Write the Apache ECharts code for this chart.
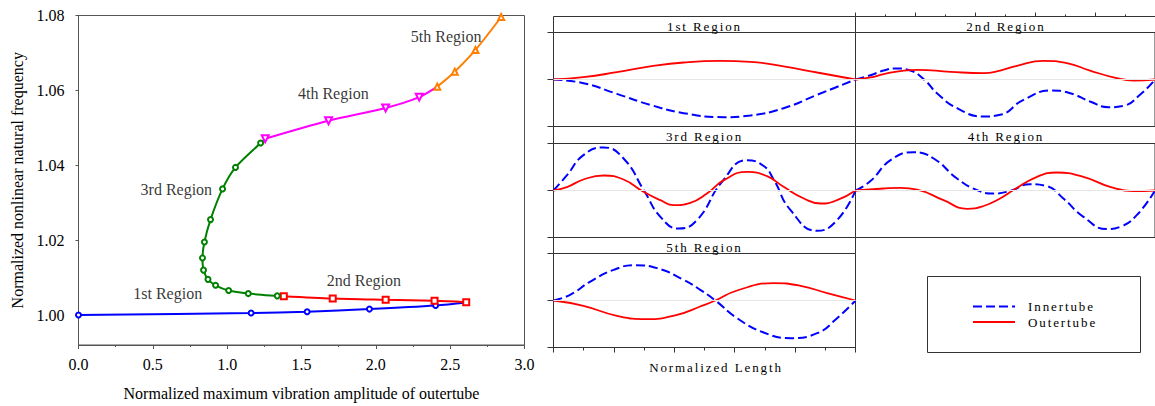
<!DOCTYPE html>
<html>
<head>
<meta charset="utf-8">
<script src="https://cdn.jsdelivr.net/npm/echarts@6/dist/echarts.min.js"></script>
<style>
html,body{margin:0;padding:0;background:#fff;}
#c{width:1155px;height:406px;}
text[style*="LSP"]{letter-spacing:1.9px;}
</style>
</head>
<body>
<div id="c"></div>
<script>
// ---------- Left chart data: [normalized amplitude, normalized frequency] ----------
const region1 = [[0,1.0],[1.161,1.00053],[1.538,1.00088],[1.957,1.00159],[2.402,1.00256],[2.611,1.00335]];
const region2 = [[1.381,1.00503],[1.710,1.00441],[2.066,1.00406],[2.395,1.00379],[2.608,1.00344]];
const region3 = [[1.381,1.00503],[1.337,1.00512],[1.142,1.00573],[1.010,1.00655],[0.922,1.00794],[0.871,1.00953],[0.841,1.0120],[0.834,1.01526],[0.847,1.01949],[0.888,1.02549],[0.969,1.03369],[1.056,1.03943],[1.225,1.04595],[1.256,1.0471]];
const region4 = [[1.256,1.0471],[1.682,1.0519],[2.066,1.0553],[2.292,1.0582],[2.413,1.0610]];
const region5 = [[2.413,1.0610],[2.531,1.0650],[2.670,1.0708],[2.843,1.0796]];
const regionNames = ['1st Region','2nd Region','3rd Region','4th Region','5th Region'];
const regionLabelAt = [[0.600,1.00564],[1.920,1.00916],[0.658,1.0334],[1.714,1.0591],[2.473,1.0745]];
const freqTickLabels = [1.00,1.02,1.04,1.06,1.08];

// ---------- Mode shapes: [normalized length, normalized deflection] ----------
const inner1 = [[0,0],[0.099,-0.078],[0.21,-0.305],[0.32,-0.539],[0.431,-0.716],[0.564,-0.801],[0.652,-0.766],[0.762,-0.61],[0.873,-0.326],[1,0]];
const outer1 = [[0,0],[0.099,0.05],[0.21,0.156],[0.32,0.277],[0.431,0.362],[0.552,0.397],[0.652,0.376],[0.762,0.277],[0.873,0.149],[1,0]];
const inner2 = [[0,0],[0.05,0.09],[0.094,0.191],[0.135,0.234],[0.183,0.191],[0.228,0.007],[0.272,-0.291],[0.339,-0.61],[0.428,-0.787],[0.483,-0.752],[0.561,-0.433],[0.656,-0.234],[0.717,-0.291],[0.783,-0.468],[0.844,-0.589],[0.894,-0.56],[0.95,-0.326],[1,0]];
const outer2 = [[0,0],[0.05,0.043],[0.094,0.113],[0.161,0.191],[0.206,0.206],[0.317,0.163],[0.428,0.135],[0.483,0.191],[0.539,0.291],[0.628,0.397],[0.706,0.348],[0.783,0.191],[0.872,0.028],[0.928,-0.021],[1,0]];
const inner3 = [[0,0],[0.044,0.32],[0.099,0.752],[0.166,0.915],[0.232,0.681],[0.302,-0.028],[0.354,-0.56],[0.414,-0.809],[0.475,-0.631],[0.558,0.184],[0.641,0.645],[0.696,0.52],[0.729,0.234],[0.785,-0.418],[0.873,-0.858],[0.939,-0.631],[1,0]];
const outer3 = [[0,0],[0.044,0.07],[0.099,0.234],[0.166,0.319],[0.232,0.234],[0.298,-0.028],[0.354,-0.206],[0.398,-0.312],[0.453,-0.262],[0.508,-0.064],[0.564,0.22],[0.641,0.397],[0.707,0.305],[0.762,0.078],[0.829,-0.17],[0.884,-0.277],[0.939,-0.206],[1,0]];
const inner4 = [[0,0],[0.05,0.2],[0.117,0.645],[0.194,0.816],[0.261,0.681],[0.339,0.255],[0.406,0.007],[0.461,-0.064],[0.517,-0.007],[0.583,0.135],[0.639,0.092],[0.694,-0.17],[0.761,-0.56],[0.84,-0.82],[0.885,-0.77],[0.939,-0.525],[1,0]];
const outer4 = [[0,0],[0.094,0.043],[0.15,0.057],[0.206,0.02],[0.294,-0.206],[0.372,-0.39],[0.428,-0.33],[0.483,-0.17],[0.53,0.02],[0.606,0.291],[0.672,0.383],[0.761,0.291],[0.85,0.078],[0.928,-0.014],[1,0]];
const inner5 = [[0,0],[0.055,0.121],[0.122,0.404],[0.199,0.652],[0.271,0.752],[0.343,0.688],[0.431,0.44],[0.486,0.227],[0.536,0],[0.608,-0.376],[0.696,-0.681],[0.785,-0.801],[0.873,-0.695],[0.939,-0.376],[1,0]];
const outer5 = [[0,0],[0.099,-0.113],[0.21,-0.326],[0.309,-0.397],[0.409,-0.305],[0.486,-0.128],[0.536,0],[0.608,0.213],[0.729,0.369],[0.818,0.312],[0.906,0.156],[1,0]];
const legendNames = ['Innertube','Outertube'];

// ---------- Styles & layout ----------
const FS = "'Liberation Serif', 'Times New Roman', serif";
const FSP = "'Liberation Serif', LSP, serif";
const TXT = '#000';
const FRAME = '#555';
const BOX = '#333';

const curves = [region1, region2, region3, region4, region5];
const curveStyle = [
  {color:'#0000ff', symbol:'emptyCircle', size:5, rotate:0, skipFirst:false, skipLast:true},
  {color:'#ff0000', symbol:'emptyRect', size:6, rotate:0, skipFirst:false, skipLast:false},
  {color:'#008000', symbol:'emptyCircle', size:5, rotate:0, skipFirst:true, skipLast:true},
  {color:'#ff00ff', symbol:'emptyTriangle', size:7, rotate:180, skipFirst:false, skipLast:true},
  {color:'#ff7f00', symbol:'emptyTriangle', size:6, rotate:0, skipFirst:false, skipLast:false}
];

const panels = [
  {inner:inner1, outer:outer1, left:553.5, top:32.5, width:302, height:94, headerTop:16.5, col:0, xAxisMode:'none'},
  {inner:inner2, outer:outer2, left:855.5, top:32.5, width:301, height:94, headerTop:16.5, col:1, xAxisMode:'top'},
  {inner:inner3, outer:outer3, left:553.5, top:143.5, width:302, height:94, headerTop:126.5, col:0, xAxisMode:'none'},
  {inner:inner4, outer:outer4, left:855.5, top:143.5, width:301, height:94, headerTop:126.5, col:1, xAxisMode:'none'},
  {inner:inner5, outer:outer5, left:553.5, top:253.5, width:302, height:94, headerTop:237.5, col:0, xAxisMode:'bottom'}
];

const grids = [{left:78.5, top:15.5, width:446, height:332, show:true, borderColor:FRAME, borderWidth:1, backgroundColor:'transparent'}];
const xAxes = [{
  gridIndex:0, type:'value', min:0, max:3, interval:0.5,
  axisLine:{show:true, onZero:false, lineStyle:{color:FRAME, width:1}},
  axisTick:{show:true, inside:false, length:4, lineStyle:{color:FRAME}},
  minorTick:{show:true, splitNumber:2, length:2, lineStyle:{color:FRAME}},
  splitLine:{show:false},
  axisLabel:{formatter:v => v.toFixed(1), fontFamily:FS, fontSize:16, color:TXT, margin:11},
  name:'Normalized maximum vibration amplitude of outertube', nameLocation:'middle', nameGap:40,
  nameTextStyle:{fontFamily:FS, fontSize:16, color:TXT}
}];
const yAxes = [{
  gridIndex:0, type:'value', min:0.992, max:1.08,
  axisLine:{show:true, onZero:false, lineStyle:{color:FRAME, width:1}},
  axisTick:{show:true, inside:false, length:3, customValues:freqTickLabels, lineStyle:{color:FRAME}},
  splitLine:{show:false},
  axisLabel:{customValues:freqTickLabels, formatter:v => v.toFixed(2), fontFamily:FS, fontSize:16, color:TXT, margin:14},
  name:'Normalized nonlinear natural frequency', nameLocation:'middle', nameGap:53,
  nameTextStyle:{fontFamily:FS, fontSize:16, color:TXT}
}];

const series = [];
curves.forEach((c, i) => {
  const st = curveStyle[i];
  series.push({
    type:'line', name:regionNames[i], xAxisIndex:0, yAxisIndex:0,
    data:c.map((p, j) => ((st.skipFirst && j === 0) || (st.skipLast && j === c.length - 1)) ? {value:p, symbol:'none'} : p),
    smooth:0.3, symbol:st.symbol, symbolSize:st.size, symbolRotate:st.rotate, showAllSymbol:true,
    lineStyle:{color:st.color, width:2},
    itemStyle:{color:st.color, borderColor:st.color, borderWidth:1.2},
    silent:true, z:3
  });
});
series.push({
  type:'scatter', xAxisIndex:0, yAxisIndex:0, symbolSize:0, silent:true,
  data:regionNames.map((n, i) => ({name:n, value:regionLabelAt[i]})),
  label:{show:true, position:'inside', formatter:'{b}', fontFamily:FS, fontSize:16, color:TXT},
  z:5
});

const graphics = [];
panels.forEach((p, k) => {
  const gi = k + 1;
  grids.push({left:p.left, top:p.top, width:p.width, height:p.height, show:true, borderColor:BOX, borderWidth:1, backgroundColor:'transparent'});
  const xa = {gridIndex:gi, type:'value', min:0, max:1, interval:0.2, show:p.xAxisMode !== 'none',
    splitLine:{show:false}, axisLabel:{show:false},
    axisLine:{show:true, onZero:false, lineStyle:{color:BOX, width:1}},
    minorTick:{show:true, splitNumber:2, length:p.xAxisMode === 'top' ? 2 : 3, lineStyle:{color:BOX}},
    axisTick:{show:true, inside:false, length:p.xAxisMode === 'top' ? 4 : 5, lineStyle:{color:BOX}}};
  if (p.xAxisMode === 'top') { xa.position = 'top'; xa.offset = p.top - p.headerTop; }
  if (p.xAxisMode === 'bottom') { xa.position = 'bottom'; }
  xAxes.push(xa);
  yAxes.push({gridIndex:gi, type:'value', min:-1, max:1, interval:1, show:p.col === 0,
    splitLine:{show:false}, axisLabel:{show:false},
    axisLine:{show:true, onZero:false, lineStyle:{color:BOX, width:1}},
    axisTick:{show:true, inside:false, length:6, lineStyle:{color:BOX}}});
  series.push({
    type:'line', name:legendNames[0], xAxisIndex:gi, yAxisIndex:gi, data:p.inner,
    smooth:0.5, symbol:'none', silent:true,
    lineStyle:{color:'#0000ff', width:2, type:[9,4]}, itemStyle:{color:'#0000ff'},
    markLine:{silent:true, symbol:'none', label:{show:false}, animation:false,
      lineStyle:{color:'#e6e6e6', width:1, type:'solid'}, data:[{yAxis:0}]},
    z:2
  });
  series.push({
    type:'line', name:legendNames[1], xAxisIndex:gi, yAxisIndex:gi, data:p.outer,
    smooth:0.5, symbol:'none', silent:true,
    lineStyle:{color:'#ff0000', width:1.8}, itemStyle:{color:'#ff0000'}, z:3
  });
  graphics.push({type:'rect', z:10, silent:true,
    shape:{x:p.left, y:p.headerTop, width:p.width, height:p.top - p.headerTop},
    style:{fill:'#fff', stroke:BOX, lineWidth:1}});
  graphics.push({type:'text', z:11, silent:true,
    style:{text:regionNames[k], x:p.left + p.width / 2, y:p.headerTop + 9.5,
      font:"13px " + FSP, fill:TXT, textAlign:'center', textVerticalAlign:'middle'}});
});
graphics.push({type:'text', z:11, silent:true,
  style:{text:'Normalized Length', x:716, y:367, font:"13px " + FSP, fill:TXT, textAlign:'center', textVerticalAlign:'middle'}});
graphics.push({type:'rect', z:10, silent:true,
  shape:{x:927.5, y:276.5, width:213, height:76},
  style:{fill:'none', stroke:BOX, lineWidth:1}});

const chart = echarts.init(document.getElementById('c'), null, {renderer:'svg'});
chart.setOption({
  animation:false,
  backgroundColor:'#fff',
  textStyle:{fontFamily:FS},
  grid:grids, xAxis:xAxes, yAxis:yAxes, series:series, graphic:graphics,
  legend:{data:legendNames, orient:'vertical', left:972, top:300, padding:0,
    itemWidth:42, itemHeight:14, itemGap:2.6, selectedMode:false,
    itemStyle:{opacity:0, borderWidth:0},
    textStyle:{fontFamily:FSP, fontSize:13, color:TXT, padding:[0,0,0,8]}}
});
</script>
</body>
</html>
